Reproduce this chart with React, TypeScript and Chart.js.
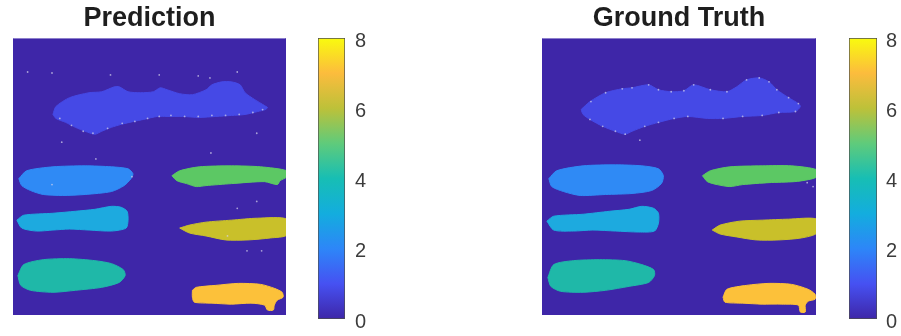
import React, { useEffect, useRef } from 'react';
import { Chart, registerables } from 'chart.js';

Chart.register(...registerables);

type Pt = [number, number];

// ---------- data ----------
const classColors = ['#3E26A8', '#4549E6', '#2F8AF5', '#1DAADF', '#1FB8A8', '#5CC864', '#C9C02A', '#FCC13A'];
const blobClasses = [1, 2, 3, 4, 5, 6, 7];
const colorbarTicks = [0, 2, 4, 6, 8];
const colorbarMin = 0;
const colorbarMax = 8;
const parulaStops: [number, string][] = [
  [0.0, '#3E26A8'], [0.125, '#4651F2'], [0.25, '#2D86F8'], [0.375, '#13ADDE'],
  [0.5, '#17BEB4'], [0.625, '#5FCB7B'], [0.75, '#BDC139'], [0.875, '#FCBC3D'], [1.0, '#F9FB0E'],
];
const gridExtent = 280;
const frame: Pt[] = [[0, 0], [280, 0], [280, 280], [0, 280]];

// Prediction regions (image coordinates, y downward)
const predClass1: Pt[] = [[41,77],[44,69],[58,60],[78,55],[91,54],[104,49],[109,49],[118,54],[131,55],[144,54],[151,50],[158,52],[171,56],[184,57],[198,52],[204,47],[214,44],[224,44],[233,47],[238,55],[248,62],[258,68],[261,70],[259,72],[251,74],[238,77],[224,78],[208,79],[191,80],[174,79],[158,79],[148,79],[134,82],[124,84],[111,87],[101,90],[91,94],[84,97],[74,94],[64,90],[54,85],[44,81]];
const predClass2: Pt[] = [[6,142],[14,134],[41,130],[74,129],[101,130],[118,132],[123,137],[121,142],[114,149],[101,155],[74,158],[51,159],[31,158],[18,154],[9,149]];
const predClass3: Pt[] = [[4,184],[11,179],[41,177],[64,175],[84,173],[101,170],[111,171],[117,175],[118,184],[116,192],[101,195],[78,194],[58,193],[41,194],[24,195],[9,192]];
const predClass4: Pt[] = [[5,240],[11,229],[31,224],[58,223],[84,225],[101,228],[113,234],[115,240],[109,247],[91,252],[64,255],[41,257],[18,255],[8,250]];
const predClass5: Pt[] = [[163,139],[171,134],[191,130],[224,129],[254,130],[281,134],[281,140],[274,144],[271,148],[258,145],[224,147],[198,149],[188,150],[178,147],[168,144]];
const predClass6: Pt[] = [[171,192],[181,189],[198,186],[224,184],[251,182],[281,183],[281,199],[264,202],[241,204],[218,204],[198,200],[181,197]];
const predClass7: Pt[] = [[184,255],[188,252],[208,250],[231,248],[254,249],[268,253],[276,257],[277,262],[271,265],[268,270],[267,275],[261,275],[258,270],[244,268],[224,269],[204,268],[186,267],[184,262]];
const predSpecks: Pt[] = [[48,81],[60,88],[72,94],[82,96],[97,91],[112,86],[125,84],[138,81],[150,79],[162,78],[176,79],[190,79],[204,78],[218,78],[232,77],[246,75],[256,72],[15,34],[40,35],[100,37],[150,37],[190,38],[202,40],[230,34],[50,105],[85,122],[250,96],[203,116],[122,140],[230,172],[250,165],[240,215],[255,215],[220,200],[40,148]];

// Ground-truth regions
const truthClass1: Pt[] = [[40,72],[49,64],[65,55],[82,51],[92,50],[109,47],[119,52],[132,54],[145,53],[155,47],[172,52],[189,54],[199,49],[209,42],[222,40],[232,44],[240,52],[252,60],[262,66],[264,69],[259,74],[242,75],[225,78],[205,79],[185,81],[169,81],[149,79],[135,81],[119,85],[105,89],[92,94],[85,97],[75,94],[62,89],[49,82],[42,77]];
const truthClass2: Pt[] = [[7,142],[15,134],[42,129],[75,128],[102,129],[119,132],[124,139],[122,147],[112,154],[92,157],[65,158],[39,159],[22,155],[10,150]];
const truthClass3: Pt[] = [[5,185],[12,180],[42,178],[69,175],[89,173],[102,170],[114,172],[119,177],[119,187],[115,195],[99,196],[75,195],[52,194],[32,195],[12,194]];
const truthClass4: Pt[] = [[6,242],[12,229],[32,225],[59,224],[85,225],[102,229],[114,234],[115,240],[109,247],[89,251],[65,255],[42,257],[19,256],[9,251]];
const truthClass5: Pt[] = [[164,139],[172,134],[192,130],[225,129],[255,129],[281,133],[281,140],[272,143],[258,145],[232,146],[205,148],[192,150],[179,148],[169,145]];
const truthClass6: Pt[] = [[174,194],[182,189],[202,185],[225,184],[252,183],[281,183],[281,197],[265,202],[242,204],[219,204],[199,201],[182,198]];
const truthClass7: Pt[] = [[185,262],[189,254],[209,250],[232,248],[255,249],[272,254],[279,259],[279,264],[272,266],[269,270],[269,277],[264,277],[262,270],[245,269],[225,269],[205,268],[187,267]];
const truthSpecks: Pt[] = [[50,64],[65,55],[82,51],[92,50],[109,47],[119,52],[132,54],[145,53],[155,47],[172,52],[189,54],[209,42],[222,40],[232,44],[240,52],[252,60],[262,66],[259,74],[242,75],[225,78],[205,79],[185,81],[149,79],[135,81],[119,85],[105,89],[85,97],[75,94],[62,89],[49,82],[100,103],[271,146],[277,150]];

const predBlobs = [predClass1, predClass2, predClass3, predClass4, predClass5, predClass6, predClass7];
const truthBlobs = [truthClass1, truthClass2, truthClass3, truthClass4, truthClass5, truthClass6, truthClass7];

const FONT = "'Liberation Sans', Arial, Helvetica, sans-serif";
const PLOT_TOP = 38;
const PLOT_H = 281;
const TICK_SIZE = 20;

function polyDataset(poly: Pt[], cls: number) {
  const pts = [...poly, poly[0]].map(([x, y]) => ({ x, y }));
  const color = classColors[cls];
  return {
    data: pts,
    showLine: true,
    fill: 'shape',
    backgroundColor: color,
    borderColor: color,
    borderWidth: 1,
    pointRadius: 0,
    tension: cls === 0 ? 0 : 0.25,
    order: cls === 0 ? 10 : 2,
  };
}

function Heatmap({ title, blobs, specks, left, width }: { title: string; blobs: Pt[][]; specks: Pt[]; left: number; width: number }) {
  const ref = useRef<HTMLCanvasElement>(null);
  useEffect(() => {
    const datasets: any[] = [polyDataset(frame, 0)];
    blobs.forEach((b, i) => datasets.push(polyDataset(b, blobClasses[i])));
    datasets.push({
      data: specks.map(([x, y]) => ({ x, y })),
      showLine: false,
      pointRadius: 0.9,
      pointBackgroundColor: 'rgba(215,212,235,0.7)',
      pointBorderWidth: 0,
      order: 0,
    });
    const chart = new Chart(ref.current!, {
      type: 'scatter',
      data: { datasets },
      options: {
        responsive: false,
        animation: false,
        devicePixelRatio: 1,
        events: [],
        layout: { padding: 0 },
        plugins: {
          legend: { display: false },
          tooltip: { enabled: false },
          title: {
            display: true,
            text: title,
            color: '#1e1e1e',
            font: { family: FONT, size: 27, weight: 'bold' },
            padding: { top: 2, bottom: 4 },
          },
        },
        scales: {
          x: { type: 'linear', min: 0, max: gridExtent, display: false },
          y: { type: 'linear', min: 0, max: gridExtent, reverse: true, display: false },
        },
      } as any,
    });
    return () => chart.destroy();
  }, []);
  return (
    <canvas ref={ref} width={width} height={319}
      style={{ position: 'absolute', left, top: 0, width, height: 319 }} />
  );
}

function Colorbar({ left, barWidth, pad }: { left: number; barWidth: number; pad: number }) {
  const ref = useRef<HTMLCanvasElement>(null);
  const axisW = 40;
  // Chart.js reserves half a label line plus the tick padding above and below a vertical axis
  const edge = (TICK_SIZE * 1.2) / 2 + pad;
  const h = PLOT_H + 2 * edge;
  useEffect(() => {
    const chart = new Chart(ref.current!, {
      type: 'bar',
      data: {
        labels: [''],
        datasets: [{
          data: [colorbarMax],
          backgroundColor: (ctx: any) => {
            const area = ctx.chart.chartArea;
            if (!area) return classColors[0];
            const g = ctx.chart.ctx.createLinearGradient(0, area.bottom, 0, area.top);
            parulaStops.forEach(([f, c]) => g.addColorStop(f, c));
            return g;
          },
          borderColor: '#4d4d4d',
          borderWidth: 1,
          borderSkipped: false,
          barPercentage: 1,
          categoryPercentage: 1,
        }],
      },
      options: {
        responsive: false,
        animation: false,
        devicePixelRatio: 1,
        events: [],
        layout: { padding: 0 },
        plugins: { legend: { display: false }, tooltip: { enabled: false } },
        scales: {
          x: { display: false },
          y: {
            position: 'right',
            min: colorbarMin,
            max: colorbarMax,
            grid: { display: false, drawTicks: false },
            border: { display: false },
            afterBuildTicks: (s: any) => { s.ticks = colorbarTicks.map((v) => ({ value: v })); },
            afterFit: (s: any) => { s.width = axisW; },
            ticks: {
              padding: pad,
              color: '#3c3c3c',
              labelOffset: 3,
              font: { family: FONT, size: TICK_SIZE },
            },
          },
        },
      } as any,
    });
    return () => chart.destroy();
  }, []);
  const w = barWidth + axisW;
  return (
    <canvas ref={ref} width={w} height={h}
      style={{ position: 'absolute', left, top: PLOT_TOP - edge, width: w, height: h }} />
  );
}

export default function App() {
  return (
    <div style={{ position: 'fixed', left: 0, top: 0, width: 901, height: 336, background: '#ffffff', overflow: 'hidden' }}>
      <Heatmap title="Prediction" blobs={predBlobs} specks={predSpecks} left={9} width={281} />
      <Colorbar left={318} barWidth={27} pad={10} />
      <Heatmap title="Ground Truth" blobs={truthBlobs} specks={truthSpecks} left={538} width={282} />
      <Colorbar left={849} barWidth={28} pad={9} />
    </div>
  );
}
